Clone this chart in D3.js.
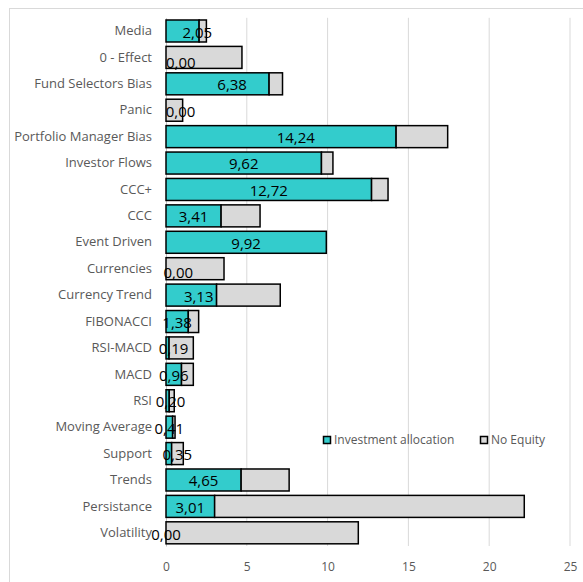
<!DOCTYPE html>
<html>
<head>
<meta charset="utf-8">
<script src="https://cdn.jsdelivr.net/npm/d3@7"></script>
<style>
  html, body { margin: 0; padding: 0; background: #ffffff; }
  svg { display: block; }
</style>
</head>
<body>
<svg id="chart" width="583" height="582"></svg>
<script>
// ---- data ----
const categories = ["Media", "0 - Effect", "Fund Selectors Bias", "Panic", "Portfolio Manager Bias",
  "Investor Flows", "CCC+", "CCC", "Event Driven", "Currencies", "Currency Trend", "FIBONACCI",
  "RSI-MACD", "MACD", "RSI", "Moving Average", "Support", "Trends", "Persistance", "Volatility"];
const investmentAllocation = [2.05, 0.00, 6.38, 0.00, 14.24, 9.62, 12.72, 3.41, 9.92, 0.00, 3.13, 1.38,
  0.19, 0.96, 0.20, 0.41, 0.35, 4.65, 3.01, 0.00];
const noEquity = [0.45, 4.70, 0.83, 1.03, 3.19, 0.71, 1.02, 2.41, 0.00, 3.59, 3.94, 0.64,
  1.50, 0.73, 0.31, 0.15, 0.72, 2.97, 19.16, 11.90];
const xTicks = [0, 5, 10, 15, 20, 25];
const seriesNames = ["Investment allocation", "No Equity"];

// ---- layout / style (not data) ----
const colors = { alloc: "#33CCCC", noEq: "#D9D9D9" };
// manual data-label nudges (px) as dragged in the original
const labelNudge = {
  "Media": [14.7, 2], "0 - Effect": [14.8, 5], "Fund Selectors Bias": [14.6, 1], "Panic": [14.5, 1],
  "Portfolio Manager Bias": [14.7, 1], "Currencies": [12.3, 4], "Currency Trend": [7.4, 1],
  "RSI-MACD": [6, 1], "RSI": [3, 1], "Support": [8.5, 1], "Volatility": [0, 2]
};

const svg = d3.select("#chart");
const x = d3.scaleLinear().domain([0, 25]).range([166, 570]);
const y = d3.scaleBand().domain(categories).range([17.8, 546]).paddingInner(0.167).paddingOuter(0.083);

// outer chart border
svg.append("rect").attr("x", 9.5).attr("y", 8.5).attr("width", 620).attr("height", 620)
  .attr("fill", "none").attr("stroke", "#D9D9D9").attr("stroke-width", 1);

// gridlines
svg.append("g").selectAll("line").data(xTicks.filter(d => d > 0)).join("line")
  .attr("x1", d => x(d)).attr("x2", d => x(d))
  .attr("y1", 17.8).attr("y2", 546)
  .attr("stroke", "#D9D9D9").attr("stroke-width", 1);

// x axis tick labels
const xAxis = d3.axisBottom(x).tickValues(xTicks).tickSize(0).tickPadding(0);
const gx = svg.append("g").attr("transform", "translate(0,566.5)").call(xAxis);
gx.select(".domain").remove();
gx.selectAll("text").attr("font-family", "Open Sans").attr("font-size", 12).attr("fill", "#595959")
  .attr("y", 0).attr("dy", "0.35em");

// y axis line + labels
const yAxis = d3.axisLeft(y).tickSize(0).tickPadding(14);
const gy = svg.append("g").attr("transform", `translate(${x(0)},0)`).call(yAxis);
gy.select(".domain").attr("stroke", "#BFBFBF").attr("stroke-width", 1);
gy.selectAll("text").attr("font-family", "Open Sans").attr("font-size", 13).attr("fill", "#595959");

const rows = categories.map((c, i) => ({ c, a: investmentAllocation[i], n: noEquity[i] }));

// bars
const bars = svg.append("g");
bars.selectAll("rect.alloc").data(rows.filter(d => d.a > 0)).join("rect")
  .attr("class", "alloc")
  .attr("x", x(0)).attr("y", d => y(d.c))
  .attr("width", d => x(d.a) - x(0)).attr("height", y.bandwidth())
  .attr("fill", colors.alloc).attr("stroke", "#000").attr("stroke-width", 1.5);
bars.selectAll("rect.noeq").data(rows.filter(d => d.n > 0)).join("rect")
  .attr("class", "noeq")
  .attr("x", d => x(d.a)).attr("y", d => y(d.c))
  .attr("width", d => x(d.a + d.n) - x(d.a)).attr("height", y.bandwidth())
  .attr("fill", colors.noEq).attr("stroke", "#000").attr("stroke-width", 1.5);

// data labels
const fmt = v => v.toFixed(2).replace(".", ",");
svg.append("g").selectAll("text").data(rows).join("text")
  .attr("x", d => (x(0) + x(d.a)) / 2 + (labelNudge[d.c] ? labelNudge[d.c][0] : 0))
  .attr("y", d => y(d.c) + y.bandwidth() / 2 + (labelNudge[d.c] ? labelNudge[d.c][1] : 1))
  .attr("dy", "0.36em")
  .attr("text-anchor", "middle")
  .attr("font-family", "Open Sans").attr("font-size", 15).attr("fill", "#000")
  .text(d => fmt(d.a));

// legend
const legend = svg.append("g");
const legendX = [323, 480];
const legendColors = [colors.alloc, colors.noEq];
seriesNames.forEach((name, i) => {
  legend.append("rect").attr("x", legendX[i] + 0.5).attr("y", 436.5).attr("width", 7).attr("height", 7)
    .attr("fill", legendColors[i]).attr("stroke", "#000").attr("stroke-width", 1.5);
  legend.append("text").attr("x", legendX[i] + 11).attr("y", 440).attr("dy", "0.35em")
    .attr("font-family", "Open Sans").attr("font-size", 12).attr("fill", "#595959").text(name);
});
</script>
</body>
</html>
